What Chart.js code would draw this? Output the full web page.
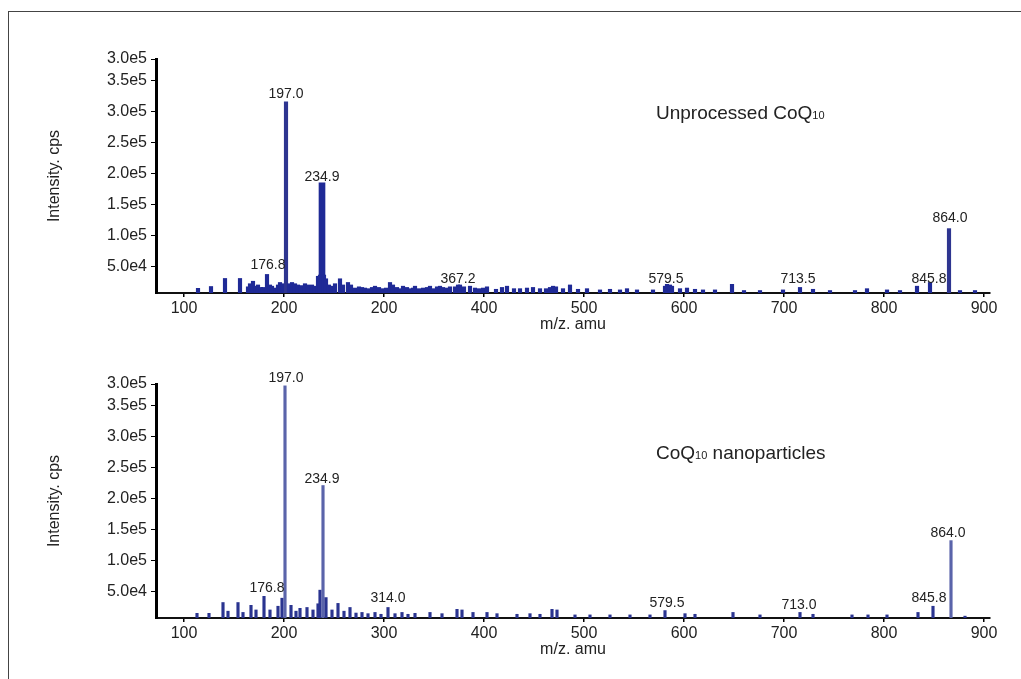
<!DOCTYPE html>
<html>
<head>
<meta charset="utf-8">
<script src="https://cdn.jsdelivr.net/npm/chart.js@4.4.0/dist/chart.umd.min.js"></script>
<style>
body{margin:0;background:#fff;width:1021px;height:679px;overflow:hidden;position:relative;font-family:"Liberation Sans",Arial,sans-serif;}
#frame{position:absolute;left:8px;top:11px;width:1030px;height:700px;border-top:1px solid #444;border-left:1px solid #444;}
.box{position:absolute;left:40px;width:960px;height:300px;}
.tag{position:absolute;left:656px;font-size:19px;color:#222;white-space:nowrap;}
.tag sub{font-size:11px;vertical-align:baseline;}
</style>
</head>
<body>
<div id="frame"></div>
<div class="box" style="top:40px"><canvas id="top"></canvas></div>
<div class="box" style="top:365px"><canvas id="bottom"></canvas></div>
<div class="tag" style="top:102px">Unprocessed CoQ<sub>10</sub></div>
<div class="tag" style="top:442px">CoQ<sub>10</sub> nanoparticles</div>
<script>
// axes
const yTickVals = [50000, 100000, 150000, 200000, 250000, 300000, 350000, 385000];
const yTickLabels = ['5.0e4', '1.0e5', '1.5e5', '2.0e5', '2.5e5', '3.0e5', '3.5e5', '3.0e5'];
const xTickVals = [100, 200, 300, 400, 500, 600, 700, 800, 900];
const xTickLabelsTop = ['100', '200', '200', '400', '500', '600', '700', '800', '900'];
const xTickLabelsBottom = ['100', '200', '300', '400', '500', '600', '700', '800', '900'];

// unprocessed CoQ10
const topMz = [114,127,141,156,164,166,169,172,174,177,179,183,186,188,192,194,196,199,202,205,208,211,214,217,221,224,228,231,234,236,240,242,245,248,251,256,259,264,267,271,275,278,281,284,288,291,295,299,302,306,309,313,316,319,323,326,329,331,335,339,343,346,349,353,356,359,362,366,371,374,376,380,386,391,395,399,403,412,418,423,430,436,443,449,456,462,466,469,472,479,486,494,503,516,526,536,543,553,569,581,583,586,588,596,603,611,619,631,648,660,676,699,716,729,746,771,783,803,816,833,846,865,876,891];
const topInt = [14500,17500,30500,30500,17000,22000,26000,18000,20000,16000,16000,37000,20000,18000,15000,20000,24000,22000,316000,22000,24000,22000,20000,19000,22000,20000,20000,18000,34000,36000,36000,30000,20000,18000,22000,30000,20000,24000,20000,15000,17000,16000,15000,14000,16000,18000,16000,14000,15000,24000,20000,16000,14000,18000,16000,14000,15000,18000,14000,15000,16000,18000,14000,17000,18000,16000,15000,17000,17000,20000,20000,17000,18000,15000,14000,15000,17000,13000,16000,18000,14000,14000,15000,16000,14000,14000,16000,18000,17000,14000,20000,13000,14000,12000,13000,12000,14000,12000,12000,18000,21000,20000,18000,14000,15000,13000,12000,12000,21000,11000,11000,12000,16000,13000,11000,11000,14000,12000,11000,18000,24000,111000,11000,11000];
const topBroadMz = [238];
const topBroadInt = [185000];
const topLabelText = ['197.0', '234.9', '176.8', '367.2', '579.5', '713.5', '845.8', '864.0'];
const topLabelMz = [202, 238, 184, 374, 582, 714, 845, 866];
const topLabelInt = [329000, 193600, 51600, 29000, 29000, 29000, 29000, 127400];

// CoQ10 nanoparticles
const botMz = [113,125,139,144,154,159,167,172,180,186,194,198,201,207,212,216,223,229,234,236,239,242,248,254,260,266,272,278,284,291,297,304,311,318,324,331,346,358,373,378,389,403,413,433,446,456,468,473,491,506,526,546,566,581,601,611,649,676,716,729,768,784,803,834,849,867,881];
const botInt = [14500,14500,32000,18000,32000,16000,27500,20000,42000,20000,26000,39000,382000,27500,18000,22600,24000,20000,30000,52000,221000,40000,20000,30600,18000,24000,15000,16000,14000,16000,13000,24000,14000,16000,13000,14500,16000,14000,21000,20000,16000,16000,14000,13000,14000,13000,21000,20000,12000,12000,12000,12000,12000,19000,14000,13000,16000,12000,16000,13000,12000,12000,12000,16000,26000,132000,10000];
const botLabelText = ['197.0', '234.9', '176.8', '314.0', '579.5', '713.0', '845.8', '864.0'];
const botLabelMz = [202, 238, 183, 304, 583, 715, 845, 864];
const botLabelInt = [395000, 232000, 56000, 38700, 30600, 27400, 38700, 143600];

const FONT = '"Liberation Sans", Arial, sans-serif';

// peak annotations
const peakLabels = {
  id: 'peakLabels',
  afterDraw(chart, args, opts) {
    const {ctx, scales: {x, y}} = chart;
    ctx.save();
    ctx.font = '14px ' + FONT;
    ctx.fillStyle = '#222';
    ctx.textAlign = 'center';
    ctx.textBaseline = 'middle';
    opts.text.forEach((t, i) => {
      ctx.fillText(t, x.getPixelForValue(opts.mz[i]), y.getPixelForValue(opts.val[i]));
    });
    ctx.restore();
  }
};

function spectrum(ctx, mz, inten, broadMz, broadInt, xLabels, lt, lm, lv, color, bigColor, thick) {
  const pts = (a, b) => a.map((m, i) => ({x: m, y: b[i]}));
  new Chart(ctx, {
    type: 'bar',
    data: {
      datasets: [
        {
          data: pts(mz, inten),
          barThickness: thick,
          backgroundColor: c => (c.raw && c.raw.y > 90000 ? bigColor : color)
        },
        {
          data: pts(broadMz, broadInt),
          barThickness: 6,
          backgroundColor: color
        }
      ]
    },
    plugins: [peakLabels],
    options: {
      responsive: true,
      maintainAspectRatio: false,
      animation: false,
      layout: {padding: {top: 19, right: 10, left: 0, bottom: 0}},
      plugins: {
        legend: {display: false},
        tooltip: {enabled: false},
        peakLabels: {text: lt, mz: lm, val: lv}
      },
      datasets: {bar: {grouped: false}},
      scales: {
        x: {
          type: 'linear',
          min: 72,
          max: 906,
          offset: false,
          afterBuildTicks: s => { s.ticks = xTickVals.map(v => ({value: v})); },
          afterFit: s => { s.height = 47; },
          grid: {display: true, drawOnChartArea: false, offset: false, tickLength: 4, color: '#000', lineWidth: 1.5},
          border: {color: '#111', width: 2},
          ticks: {
            autoSkip: false,
            maxRotation: 0,
            padding: 2,
            color: '#222',
            font: {family: FONT, size: 16},
            callback: (v, i) => xLabels[i]
          },
          title: {display: true, text: 'm/z. amu', color: '#222', font: {family: FONT, size: 16}, padding: {top: 0, bottom: 6}}
        },
        y: {
          min: 7000,
          max: 385000,
          beginAtZero: false,
          afterBuildTicks: s => { s.ticks = yTickVals.map(v => ({value: v})); },
          afterFit: s => { s.width = 116; },
          grid: {display: true, drawOnChartArea: false, tickLength: 5, color: '#000'},
          border: {color: '#000', width: 3, dash: [1.5, 1.5]},
          ticks: {
            autoSkip: false,
            padding: 4,
            color: '#222',
            font: {family: FONT, size: 16},
            callback: (v, i) => yTickLabels[i]
          },
          title: {display: true, text: 'Intensity. cps', color: '#222', font: {family: FONT, size: 16}, padding: {top: 5, bottom: 0}}
        }
      }
    }
  });
}

spectrum(document.getElementById('top'), topMz, topInt, topBroadMz, topBroadInt, xTickLabelsTop,
  topLabelText, topLabelMz, topLabelInt, '#1f2a96', '#2e3590', 3.5);
spectrum(document.getElementById('bottom'), botMz, botInt, [], [], xTickLabelsBottom,
  botLabelText, botLabelMz, botLabelInt, '#2a3490', '#5a64aa', 2.5);
</script>
</body>
</html>
